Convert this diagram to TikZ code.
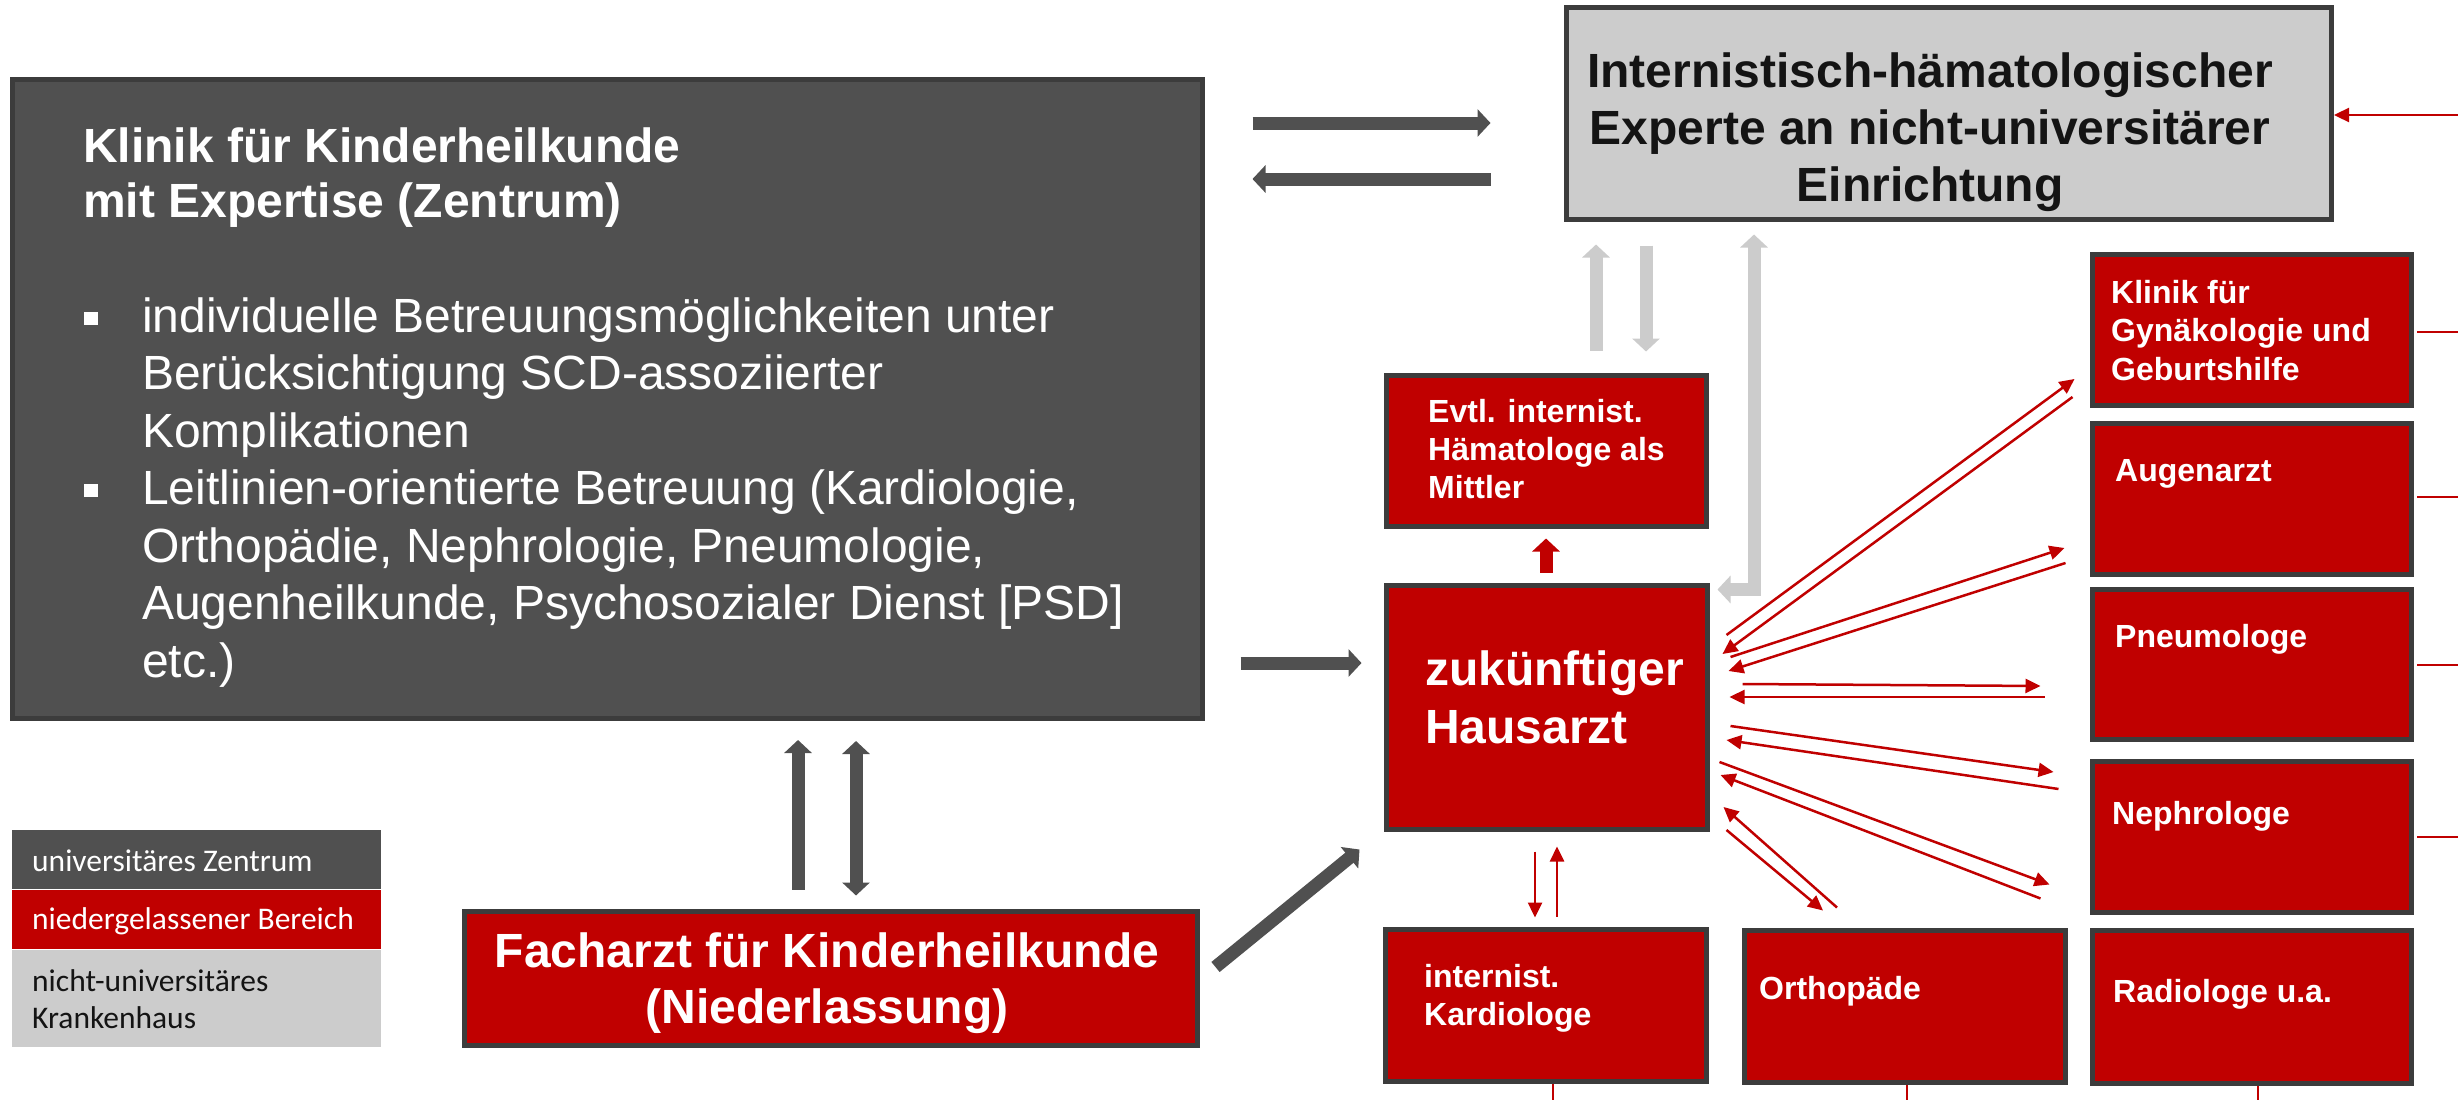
\documentclass[tikz,border=0pt]{standalone}
\usepackage{fontspec}
\setmainfont{Liberation Sans}
\newfontfamily\legendfont{Carlito}
\usetikzlibrary{arrows.meta,calc}
\definecolor{boxred}{HTML}{C00000}
\definecolor{dgray}{HTML}{505050}
\definecolor{lgray}{HTML}{CCCCCC}
\definecolor{edgegray}{HTML}{3C3C3C}
\definecolor{ink}{HTML}{141414}
\tikzset{
  FatTip/.tip={Triangle[length=13pt,width=27pt]},
  RedTip/.tip={Triangle[length=15pt,width=14pt]},
  redbox/.style={draw=edgegray, line width=5pt, fill=boxred, inner sep=0pt},
  greybox/.style={draw=edgegray, line width=5pt, fill=lgray, inner sep=0pt},
  darkbox/.style={draw=edgegray, line width=5pt, fill=dgray, inner sep=0pt},
  legbox/.style={fill=#1, inner sep=0pt, minimum width=369pt},
  bigbold/.style={font=\fontsize{48}{57}\selectfont\bfseries, inner sep=0pt},
  bigreg/.style={font=\fontsize{48}{57.5}\selectfont, inner sep=0pt},
  smallbold/.style={font=\fontsize{32}{38.5}\selectfont\bfseries, inner sep=0pt, text=white, anchor=base west, align=left},
  legtxt/.style={font=\legendfont\fontsize{31.5}{37}\selectfont, inner sep=0pt, anchor=base west, align=left},
  fatdark/.style={line width=13pt, draw=dgray},
  fatlight/.style={line width=13pt, draw=lgray},
  fatred/.style={line width=13pt, draw=boxred},
  thinred/.style={line width=2.5pt, draw=boxred},
}
\begin{document}
\begin{tikzpicture}[x=1pt,y=-1pt]
\useasboundingbox (0,0) rectangle (2458,1100);
\fill[white] (0,0) rectangle (2458,1100);

% ---------- boxes ----------
\node[darkbox, minimum width=1190pt, minimum height=639pt] (klinik) at (607,399) {};
\node[greybox, minimum width=765pt, minimum height=212pt] (expert) at (1949,113.5) {};
\node[redbox, minimum width=320pt, minimum height=151pt] (evtl) at (1546.5,451) {};
\node[redbox, minimum width=321pt, minimum height=244pt] (haus) at (1547,707.5) {};
\node[redbox, minimum width=319pt, minimum height=151pt] (gyn) at (2252,330) {};
\node[redbox, minimum width=319pt, minimum height=151pt] (augen) at (2252,499) {};
\node[redbox, minimum width=319pt, minimum height=150pt] (pneumo) at (2252,664.5) {};
\node[redbox, minimum width=319pt, minimum height=151pt] (nephro) at (2252,837) {};
\node[redbox, minimum width=319pt, minimum height=153pt] (radio) at (2252,1007) {};
\node[redbox, minimum width=321pt, minimum height=152pt] (ortho) at (1905,1006.5) {};
\node[redbox, minimum width=321pt, minimum height=152pt] (kardio) at (1546,1005.5) {};
\node[redbox, minimum width=733pt, minimum height=134pt] (fach) at (831,978.5) {};

% ---------- legend ----------
\node[legbox=dgray, minimum height=59pt] (leg1) at (196.5,859.5) {};
\node[legbox=boxred, minimum height=59pt] (leg2) at (196.5,919.5) {};
\node[legbox=lgray, minimum height=97pt] (leg3) at (196.5,998.5) {};
\node[legtxt, text=white] (leg1t) at (32,871) {universitäres Zentrum};
\node[legtxt, text=white] (leg2t) at (32,929) {niedergelassener Bereich};
\node[legtxt, text=ink] (leg3t) at (32,1028) {nicht-universitäres\\Krankenhaus};

% ---------- texts (base = baseline of the last line) ----------
\node[bigbold, text=white, anchor=base west, align=left, font=\fontsize{48}{55}\selectfont\bfseries] (klinikt) at (83,217)
  {Klinik für Kinderheilkunde\\mit Expertise (Zentrum)};
\node[fill=white, inner sep=0pt, minimum width=14pt, minimum height=13pt] (bul1) at (91,318) {};
\node[fill=white, inner sep=0pt, minimum width=14pt, minimum height=13pt] (bul2) at (91,490) {};
\node[bigreg, text=white, anchor=base west, align=left] (klinikb) at (142,677)
  {individuelle Betreuungsmöglichkeiten unter\\
   Berücksichtigung SCD-assoziierter\\
   Komplikationen\\
   Leitlinien-orientierte Betreuung (Kardiologie,\\
   Orthopädie, Nephrologie, Pneumologie,\\
   Augenheilkunde, Psychosozialer Dienst [PSD]\\
   etc.)};
\node[bigbold, text=ink, anchor=base, align=center] (expertt) at (1930,201)
  {Internistisch-hämatologischer\\Experte an nicht-universitärer\\Einrichtung};
\node[bigbold, text=white, anchor=base, align=center, font=\fontsize{48}{56}\selectfont\bfseries] (facht) at (827,1023)
  {Facharzt für Kinderheilkunde\\(Niederlassung)};
\node[bigbold, text=white, anchor=base west, align=left, font=\fontsize{48}{58}\selectfont\bfseries] (haust) at (1425,743)
  {zukünftiger\\Hausarzt};
\node[smallbold, font=\fontsize{32}{38}\selectfont\bfseries] (evtlt) at (1428,498) {Evtl. internist.\\Hämatologe als\\Mittler};
\node[smallbold] (gynt) at (2111,380) {Klinik für\\Gynäkologie und\\Geburtshilfe};
\node[smallbold] (augent) at (2115,481) {Augenarzt};
\node[smallbold] (pneumot) at (2115,647) {Pneumologe};
\node[smallbold] (nephrot) at (2112,824) {Nephrologe};
\node[smallbold] (radiot) at (2113,1002) {Radiologe u.a.};
\node[smallbold] (orthot) at (1759,999) {Orthopäde};
\node[smallbold] (kardiot) at (1424,1025.5) {internist.\\Kardiologe};

% ---------- fat arrows ----------
\draw[fatdark, -FatTip, shorten <=48pt, shorten >=73.5pt] (klinik.east |- 0,123) -- (expert.west |- 0,123);
\draw[fatdark, -FatTip, shorten <=73.5pt, shorten >=48pt] (expert.west |- 0,179) -- (klinik.east |- 0,179);
\draw[fatdark, -FatTip, shorten <=19.5pt, shorten >=19pt] (fach.north -| 798,0) -- (klinik.south -| 798,0);
\draw[fatdark, FatTip-FatTip, shorten <=20pt, shorten >=13.5pt] (klinik.south -| 856,0) -- (fach.north -| 856,0);
\draw[fatdark, -FatTip, shorten <=36pt, shorten >=22.5pt] (klinik.east |- 0,663) -- (haus.west |- 0,663);
\draw[fatdark, -FatTip] ([shift={(15.5,-11.5)}]fach.east) -- ([shift={(-24.5,17.5)}]haus.south west);
\draw[fatlight, -FatTip, shorten <=22.5pt, shorten >=22.5pt] (evtl.north -| 1596,0) -- (expert.south -| 1596,0);
\draw[fatlight, -FatTip, shorten <=23.5pt, shorten >=21.5pt] (expert.south -| 1646,0) -- (evtl.north -| 1646,0);
\draw[fatlight, FatTip-FatTip, line join=miter, shorten >=12.5pt] ([shift={(7.5,6.5)}]haus.north east) -| (expert.south -| 1754,0);
\draw[fatred, -FatTip, shorten <=10.5pt, shorten >=9.5pt] (haus.north -| 1546,0) -- (evtl.south -| 1546,0);

% ---------- thin red arrows ----------
\draw[thinred, -RedTip] ([shift={(16.5,-72.5)}]haus.east) -- ([shift={(-15.5,49)}]gyn.west);
\draw[thinred, -RedTip] ([shift={(-17.5,67)}]gyn.west) -- ([shift={(12.5,-53.5)}]haus.east);
\draw[thinred, -RedTip] ([shift={(20.5,-50.5)}]haus.east) -- ([shift={(-25.5,49)}]augen.west);
\draw[thinred, -RedTip] ([shift={(-24.5,64)}]augen.west) -- ([shift={(18.5,-36.5)}]haus.east);
\draw[thinred, -RedTip] ([shift={(32.5,-23.5)}]haus.east) -- ([shift={(-49.5,21.5)}]pneumo.west);
\draw[thinred, -RedTip] ([shift={(-45.5,32.5)}]pneumo.west) -- ([shift={(19.5,-10.5)}]haus.east);
\draw[thinred, -RedTip] ([shift={(20.5,18.5)}]haus.east) -- ([shift={(-36.5,-65)}]nephro.west);
\draw[thinred, -RedTip] ([shift={(-31.5,-48)}]nephro.west) -- ([shift={(16.5,32.5)}]haus.east);
\draw[thinred, -RedTip] ([shift={(9.5,54.5)}]haus.east) -- ([shift={(-40.5,-43.5)}]radio.north west);
\draw[thinred, -RedTip] ([shift={(-49.5,-29.5)}]radio.north west) -- ([shift={(10.5,67.5)}]haus.east);
\draw[thinred, -RedTip] ([shift={(16.5,122.5)}]haus.east) -- ([shift={(-82,-17.5)}]ortho.north);
\draw[thinred, -RedTip] ([shift={(-68,-20.5)}]ortho.north) -- ([shift={(13.5,99.5)}]haus.east);
\draw[thinred, -RedTip] ([shift={(-12,19.5)}]haus.south) -- ([shift={(-11,-9.5)}]kardio.north);
\draw[thinred, -RedTip] ([shift={(11,-10.5)}]kardio.north) -- ([shift={(10,14.5)}]haus.south);

% ---------- lines leaving the picture ----------
\coordinate (ex) at (2458,115);
\coordinate (eg) at (2458,332);
\coordinate (ea) at (2458,497);
\coordinate (ep) at (2458,665);
\coordinate (en) at (2458,837);
\coordinate (ek) at (1553,1100);
\coordinate (eo) at (1907,1100);
\coordinate (er) at (2258,1100);
\draw[thinred, -RedTip] (ex) -- (expert.east |- ex);
\draw[thinred] ([xshift=3pt]gyn.east |- eg) -- (eg);
\draw[thinred] ([xshift=3pt]augen.east |- ea) -- (ea);
\draw[thinred] ([xshift=3pt]pneumo.east |- ep) -- (ep);
\draw[thinred] ([xshift=3pt]nephro.east |- en) -- (en);
\draw[thinred] (kardio.south -| ek) -- (ek);
\draw[thinred] (ortho.south -| eo) -- (eo);
\draw[thinred] (radio.south -| er) -- (er);
\end{tikzpicture}
\end{document}
